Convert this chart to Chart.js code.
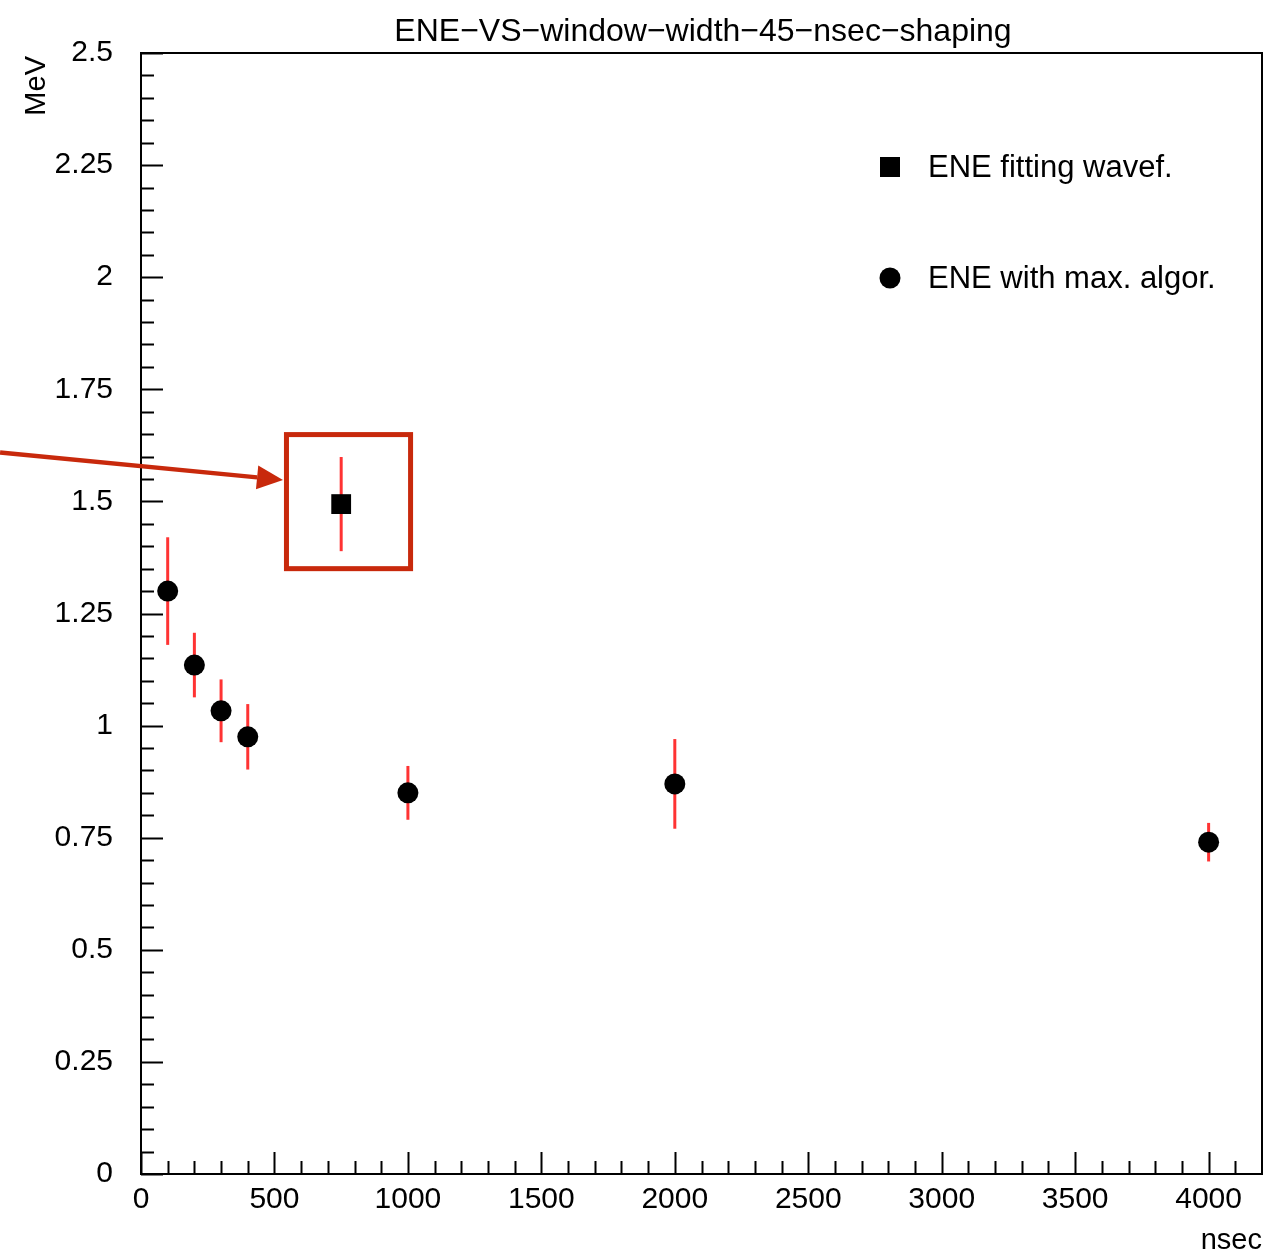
<!DOCTYPE html>
<html>
<head>
<meta charset="utf-8">
<script src="https://cdn.jsdelivr.net/npm/chart.js@4/dist/chart.umd.min.js"></script>
<style>
  html, body { margin: 0; padding: 0; background: #fff; }
</style>
</head>
<body>
<canvas id="ene" width="1263" height="1251"></canvas>
<script>
// window width (nsec) and ENE (MeV)
const maxAlgoX = [100, 200, 300, 400, 1000, 2000, 4000];
const maxAlgoY = [1.30, 1.135, 1.033, 0.975, 0.850, 0.870, 0.740];
const maxAlgoErr = [0.12, 0.072, 0.07, 0.073, 0.06, 0.10, 0.043];

const fitX = [750];
const fitY = [1.494];
const fitErr = [0.105];

const xTicks = [0, 500, 1000, 1500, 2000, 2500, 3000, 3500, 4000];
const yTicks = [0, 0.25, 0.5, 0.75, 1, 1.25, 1.5, 1.75, 2, 2.25, 2.5];
const yTickLabels = ['0', '0.25', '0.5', '0.75', '1', '1.25', '1.5', '1.75', '2', '2.25', '2.5'];

const FONT = '"Liberation Sans", Arial, sans-serif';
const ERR_RED = '#ff3333';
const NOTE_RED = '#c8290c';

// red box + arrow pointing at the fitting point (data coords)
const note = {
  box: { x0: 545, x1: 1010, y0: 1.350, y1: 1.649 },
  arrowFrom: { x: -528, y: 1.609 },
  arrowTo: { x: 532, y: 1.548 }
};

function toPoints(xs, ys) {
  return xs.map((x, i) => ({ x: x, y: ys[i] }));
}

const rootStyle = {
  id: 'rootStyle',
  beforeDatasetsDraw(chart) {
    const ctx = chart.ctx;
    const xs = chart.scales.x, ys = chart.scales.y;
    ctx.save();
    ctx.strokeStyle = ERR_RED;
    ctx.lineWidth = 3;
    const bars = [[fitX, fitY, fitErr], [maxAlgoX, maxAlgoY, maxAlgoErr]];
    bars.forEach(([bx, by, be]) => {
      bx.forEach((x, i) => {
        const px = xs.getPixelForValue(x);
        ctx.beginPath();
        ctx.moveTo(px, ys.getPixelForValue(by[i] - be[i]));
        ctx.lineTo(px, ys.getPixelForValue(by[i] + be[i]));
        ctx.stroke();
      });
    });
    ctx.restore();
  },
  afterDraw(chart) {
    const ctx = chart.ctx;
    const a = chart.chartArea;
    const xs = chart.scales.x, ys = chart.scales.y;
    ctx.save();

    // frame
    ctx.strokeStyle = '#000';
    ctx.lineWidth = 2;
    ctx.strokeRect(a.left, a.top, a.right - a.left, a.bottom - a.top);

    // inward ticks
    ctx.lineWidth = 2;
    ctx.beginPath();
    for (let v = 0; v <= 4200; v += 100) {
      const px = Math.round(xs.getPixelForValue(v)) + 0.5;
      const len = v % 500 === 0 ? 22 : 13;
      ctx.moveTo(px, a.bottom);
      ctx.lineTo(px, a.bottom - len);
    }
    for (let k = 0; k <= 50; k++) {
      const py = Math.round(ys.getPixelForValue(k * 0.05)) + 0.5;
      const len = k % 5 === 0 ? 22 : 13;
      ctx.moveTo(a.left, py);
      ctx.lineTo(a.left + len, py);
    }
    ctx.stroke();

    // title
    ctx.fillStyle = '#000';
    ctx.font = '32px ' + FONT;
    ctx.textAlign = 'center';
    ctx.textBaseline = 'alphabetic';
    ctx.fillText('ENE\u2212VS\u2212window\u2212width\u221245\u2212nsec\u2212shaping', 703, 41);

    // axis titles
    ctx.font = '29px ' + FONT;
    ctx.textAlign = 'right';
    ctx.fillText('nsec', 1262, 1249);
    ctx.save();
    ctx.translate(45, 56);
    ctx.rotate(-Math.PI / 2);
    ctx.textAlign = 'right';
    ctx.fillText('MeV', 0, 0);
    ctx.restore();

    // legend
    const ds = chart.data.datasets;
    ctx.font = '31px ' + FONT;
    ctx.textAlign = 'left';
    ctx.textBaseline = 'middle';
    ctx.fillStyle = '#000';
    ctx.fillRect(880, 157, 20, 20);
    ctx.fillText(ds[0].label, 928, 168);
    ctx.beginPath();
    ctx.arc(890, 278, 10.5, 0, Math.PI * 2);
    ctx.fill();
    ctx.fillText(ds[1].label, 928, 279);

    // annotation box
    const bx0 = xs.getPixelForValue(note.box.x0), bx1 = xs.getPixelForValue(note.box.x1);
    const by0 = ys.getPixelForValue(note.box.y0), by1 = ys.getPixelForValue(note.box.y1);
    ctx.strokeStyle = NOTE_RED;
    ctx.lineWidth = 5;
    ctx.strokeRect(bx0, by1, bx1 - bx0, by0 - by1);

    // arrow
    const sx = xs.getPixelForValue(note.arrowFrom.x), sy = ys.getPixelForValue(note.arrowFrom.y);
    const tx = xs.getPixelForValue(note.arrowTo.x), ty = ys.getPixelForValue(note.arrowTo.y);
    const ang = Math.atan2(ty - sy, tx - sx);
    const headLen = 26, headW = 12;
    const baseX = tx - headLen * Math.cos(ang), baseY = ty - headLen * Math.sin(ang);
    ctx.lineWidth = 4.5;
    ctx.beginPath();
    ctx.moveTo(sx, sy);
    ctx.lineTo(baseX, baseY);
    ctx.stroke();
    ctx.fillStyle = NOTE_RED;
    ctx.beginPath();
    ctx.moveTo(tx, ty);
    ctx.lineTo(baseX + headW * Math.sin(ang), baseY - headW * Math.cos(ang));
    ctx.lineTo(baseX - headW * Math.sin(ang), baseY + headW * Math.cos(ang));
    ctx.closePath();
    ctx.fill();

    ctx.restore();
  }
};

new Chart(document.getElementById('ene').getContext('2d'), {
  type: 'scatter',
  data: {
    datasets: [{
      label: 'ENE fitting wavef.',
      data: toPoints(fitX, fitY),
      pointStyle: 'rect',
      pointRadius: 14,
      backgroundColor: '#000',
      borderColor: '#000',
      borderWidth: 0
    }, {
      label: 'ENE with max. algor.',
      data: toPoints(maxAlgoX, maxAlgoY),
      pointStyle: 'circle',
      pointRadius: 10.5,
      backgroundColor: '#000',
      borderColor: '#000',
      borderWidth: 0
    }]
  },
  options: {
    responsive: false,
    animation: false,
    devicePixelRatio: 1,
    layout: { autoPadding: false, padding: { top: 53, right: 1, left: 0, bottom: 0 } },
    plugins: {
      legend: { display: false },
      title: { display: false },
      tooltip: { enabled: false }
    },
    scales: {
      x: {
        type: 'linear',
        position: 'bottom',
        min: 0,
        max: 4200,
        afterBuildTicks: s => { s.ticks = xTicks.map(v => ({ value: v })); },
        afterFit: s => { s.height = 77; s.paddingLeft = 0; s.paddingRight = 0; },
        grid: { display: false, drawTicks: false },
        border: { display: true, color: '#000', width: 2 },
        ticks: {
          color: '#000',
          font: { family: FONT, size: 30 },
          padding: 8,
          maxRotation: 0,
          autoSkip: false,
          callback: v => String(v)
        }
      },
      y: {
        type: 'linear',
        min: 0,
        max: 2.5,
        afterBuildTicks: s => { s.ticks = yTicks.map(v => ({ value: v })); },
        afterFit: s => { s.width = 141; s.paddingTop = 0; s.paddingBottom = 0; },
        grid: { display: false, drawTicks: false },
        border: { display: true, color: '#000', width: 2 },
        ticks: {
          color: '#000',
          font: { family: FONT, size: 30 },
          padding: 28,
          autoSkip: false,
          callback: (v, i) => yTickLabels[i]
        }
      }
    }
  },
  plugins: [rootStyle]
});
</script>
</body>
</html>
